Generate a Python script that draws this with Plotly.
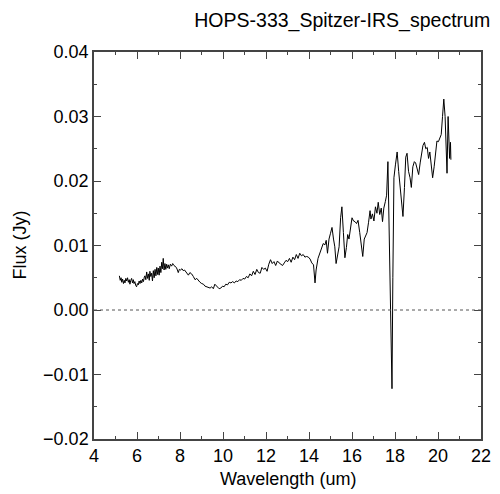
import plotly.graph_objects as go

wavelength = [5.18,5.22,5.26,5.29,5.33,5.37,5.41,5.44,5.48,5.52,5.56,5.60,5.64,5.67,5.71,5.75,5.79,5.83,5.86,5.90,
5.94,5.98,6.02,6.06,6.10,6.14,6.18,6.22,6.26,6.30,6.34,6.37,6.41,6.45,6.49,6.53,6.57,6.60,6.64,6.68,
6.72,6.76,6.80,6.84,6.88,6.92,6.96,6.99,7.03,7.07,7.11,7.15,7.19,7.22,7.26,7.30,7.34,7.38,7.42,7.46,
7.50,7.55,7.61,7.66,7.72,7.77,7.83,7.88,7.92,7.97,8.03,8.09,8.15,8.21,8.27,8.33,8.39,8.46,8.54,8.62,
8.70,8.78,8.86,8.93,9.01,9.09,9.16,9.24,9.32,9.40,9.47,9.55,9.62,9.67,9.74,9.82,9.90,9.98,10.05,10.13,
10.21,10.29,10.37,10.45,10.53,10.61,10.69,10.77,10.85,10.93,11.01,11.09,11.17,11.25,11.33,11.41,11.49,11.57,11.65,11.73,
11.81,11.89,11.97,12.05,12.13,12.21,12.29,12.37,12.45,12.53,12.61,12.69,12.77,12.85,12.93,13.01,13.09,13.17,13.25,13.33,
13.41,13.49,13.57,13.65,13.73,13.81,13.89,13.97,14.05,14.13,14.21,14.28,14.33,14.42,14.50,14.58,14.66,14.74,14.80,14.86,
14.93,15.00,15.07,15.14,15.20,15.26,15.33,15.40,15.47,15.53,15.60,15.67,15.74,15.80,15.86,15.93,16.00,16.07,16.14,16.21,
16.28,16.36,16.43,16.50,16.57,16.64,16.70,16.77,16.84,16.88,16.95,17.02,17.09,17.16,17.22,17.29,17.36,17.42,17.48,17.55,
17.61,17.67,17.72,17.79,17.86,17.90,17.95,18.02,18.10,18.17,18.24,18.31,18.37,18.44,18.50,18.56,18.63,18.70,18.76,18.83,
18.90,18.96,19.03,19.10,19.17,19.24,19.30,19.37,19.43,19.50,19.56,19.62,19.69,19.75,19.82,19.88,19.95,20.02,20.09,20.15,
20.21,20.27,20.33,20.38,20.42,20.47,20.50,20.54,20.58,20.60]

flux = [0.0053,0.0046,0.0050,0.0043,0.0048,0.0041,0.0046,0.0042,0.0049,0.0045,0.0050,0.0043,0.0047,0.0040,0.0046,0.0049,0.0042,0.0047,0.0041,0.0044,
0.0038,0.0036,0.0041,0.0039,0.0045,0.0041,0.0046,0.0042,0.0048,0.0044,0.0051,0.0053,0.0047,0.0059,0.0049,0.0056,0.0046,0.0060,0.0052,0.0057,
0.0045,0.0061,0.0050,0.0063,0.0053,0.0066,0.0055,0.0065,0.0054,0.0068,0.0058,0.0074,0.0064,0.0080,0.0062,0.0072,0.0063,0.0071,0.0065,0.0070,
0.0064,0.0071,0.0068,0.0072,0.0069,0.0068,0.0066,0.0062,0.0058,0.0063,0.0062,0.0064,0.0061,0.0062,0.0059,0.0057,0.0054,0.0058,0.0056,0.0052,
0.0047,0.0049,0.0045,0.0043,0.0041,0.0040,0.0037,0.0036,0.0035,0.0034,0.0036,0.0033,0.0040,0.0038,0.0035,0.0033,0.0034,0.0037,0.0036,0.0040,
0.0039,0.0043,0.0042,0.0044,0.0042,0.0045,0.0044,0.0047,0.0046,0.0049,0.0048,0.0052,0.0050,0.0056,0.0053,0.0060,0.0055,0.0063,0.0058,0.0057,
0.0066,0.0063,0.0065,0.0060,0.0071,0.0078,0.0072,0.0075,0.0069,0.0076,0.0073,0.0071,0.0069,0.0073,0.0077,0.0075,0.0080,0.0074,0.0082,0.0078,
0.0086,0.0080,0.0088,0.0084,0.0086,0.0082,0.0083,0.0082,0.0079,0.0073,0.0070,0.0042,0.0062,0.0080,0.0089,0.0097,0.0103,0.0101,0.0108,0.0088,
0.0110,0.0119,0.0128,0.0110,0.0098,0.0072,0.0086,0.0098,0.0143,0.0160,0.0120,0.0081,0.0097,0.0117,0.0110,0.0125,0.0143,0.0138,0.0137,0.0134,
0.0139,0.0120,0.0104,0.0083,0.0110,0.0117,0.0120,0.0136,0.0154,0.0141,0.0149,0.0138,0.0160,0.0150,0.0167,0.0148,0.0158,0.0137,0.0158,0.0168,
0.0178,0.0230,0.0120,-0.0030,-0.0122,0.0050,0.0205,0.0225,0.0245,0.0215,0.0190,0.0165,0.0145,0.0190,0.0237,0.0243,0.0215,0.0205,0.0190,0.0222,
0.0230,0.0228,0.0218,0.0210,0.0228,0.0240,0.0255,0.0260,0.0250,0.0252,0.0235,0.0245,0.0220,0.0205,0.0222,0.0245,0.0262,0.0261,0.0266,0.0272,
0.0300,0.0327,0.0300,0.0240,0.0212,0.0300,0.0280,0.0235,0.0260,0.0233]

x_ticks = [4, 6, 8, 10, 12, 14, 16, 18, 20, 22]
y_ticks = [-0.02, -0.01, 0.00, 0.01, 0.02, 0.03, 0.04]

FONT = "Liberation Sans, Arial, sans-serif"

fig = go.Figure()
fig.add_trace(go.Scatter(x=wavelength, y=flux, mode="lines",
                         line=dict(color="black", width=1), showlegend=False))
fig.add_shape(type="line", xref="paper", x0=0, x1=1, yref="y", y0=0, y1=0,
              line=dict(color="#555555", width=1, dash="dot"))

axis_common = dict(showline=True, linecolor="#444444", linewidth=1.5, mirror="ticks",
                   ticks="inside", ticklen=7, tickwidth=1, tickcolor="#444444",
                   showgrid=False, zeroline=False, automargin=False,
                   tickfont=dict(family=FONT, size=18, color="black"))

fig.update_xaxes(range=[4, 22], tickvals=x_ticks,
                 minor=dict(ticks="inside", ticklen=3, dtick=1, tick0=4, tickcolor="#444444", showgrid=False),
                 **axis_common)
fig.update_yaxes(range=[-0.02, 0.04], tickvals=y_ticks, tickformat=".2f",
                 minor=dict(ticks="inside", ticklen=3, dtick=0.005, tick0=0, tickcolor="#444444", showgrid=False),
                 **axis_common)

fig.add_annotation(text="Wavelength (um)", xref="paper", yref="paper", x=0.5, y=0,
                   xanchor="center", yanchor="middle", yshift=-40, showarrow=False,
                   font=dict(family=FONT, size=18, color="black"))
fig.add_annotation(text="Flux (Jy)", xref="paper", yref="paper", x=0, y=0.5,
                   xanchor="center", yanchor="middle", xshift=-75, textangle=-90, showarrow=False,
                   font=dict(family=FONT, size=18, color="black"))

fig.update_layout(
    width=492, height=486,
    margin=dict(l=86, r=19, t=44, b=55),
    paper_bgcolor="white", plot_bgcolor="white",
    title=dict(text="HOPS-333_Spitzer-IRS_spectrum", x=0.98, xanchor="right",
               y=0.99, yanchor="top",
               font=dict(family=FONT, size=19.5, color="black")),
)

fig.write_html("out.html")
